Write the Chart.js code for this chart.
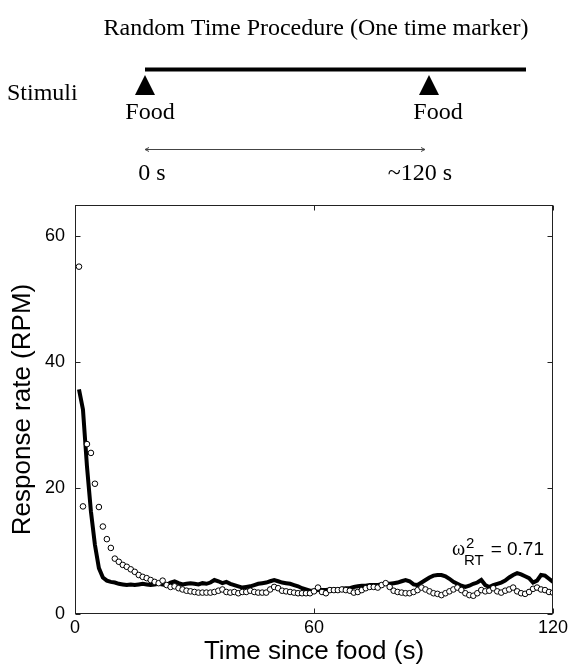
<!DOCTYPE html>
<html>
<head>
<meta charset="utf-8">
<script src="https://cdn.jsdelivr.net/npm/chart.js@4"></script>
<style>
  html, body { margin: 0; padding: 0; background: #fff; }
  #wrap { width: 571px; height: 670px; position: relative; }
</style>
</head>
<body>
<div id="wrap"><canvas id="chart"></canvas></div>
<script>
// time since food (s), one sample per second
const times = [
  1, 2, 3, 4, 5, 6, 7, 8, 9, 10, 11, 12, 13, 14, 15, 16, 17, 18, 19, 20,
  21, 22, 23, 24, 25, 26, 27, 28, 29, 30, 31, 32, 33, 34, 35, 36, 37, 38, 39, 40,
  41, 42, 43, 44, 45, 46, 47, 48, 49, 50, 51, 52, 53, 54, 55, 56, 57, 58, 59, 60,
  61, 62, 63, 64, 65, 66, 67, 68, 69, 70, 71, 72, 73, 74, 75, 76, 77, 78, 79, 80,
  81, 82, 83, 84, 85, 86, 87, 88, 89, 90, 91, 92, 93, 94, 95, 96, 97, 98, 99, 100,
  101, 102, 103, 104, 105, 106, 107, 108, 109, 110, 111, 112, 113, 114, 115, 116, 117, 118, 119, 120
];

// open circles: observed response rate
const observed = [
  55.2, 17.1, 27.0, 25.6, 20.7, 17.0, 13.9, 11.9, 10.5, 8.8,
  8.3, 7.8, 7.5, 7.1, 6.7, 6.2, 5.9, 5.7, 5.4, 5.1,
  4.9, 5.3, 4.6, 4.3, 4.4, 4.1, 3.9, 3.7, 3.6, 3.5,
  3.4, 3.4, 3.4, 3.4, 3.5, 3.7, 3.9, 3.5, 3.4, 3.5,
  3.3, 3.5, 3.5, 3.7, 3.5, 3.4, 3.4, 3.4, 3.9, 4.3,
  4.1, 3.7, 3.6, 3.5, 3.4, 3.3, 3.3, 3.3, 3.3, 3.6,
  4.2, 3.5, 3.3, 3.8, 3.8, 3.8, 3.9, 3.8, 3.7, 3.4,
  3.5, 3.8, 4.1, 4.3, 4.3, 4.2, 4.6, 4.9, 4.3, 3.7,
  3.5, 3.4, 3.3, 3.3, 3.5, 3.8, 4.2, 3.9, 3.6, 3.3,
  3.2, 3.0, 3.3, 3.6, 3.9, 4.2, 3.8, 3.3, 3.0, 2.9,
  3.3, 3.8, 3.6, 3.7, 4.1, 3.6, 3.4, 3.7, 3.9, 4.2,
  3.6, 3.3, 3.2, 3.5, 4.0, 4.2, 3.9, 3.8, 3.5, 3.4
];

// thick line: model prediction
const model = [
  35.7, 32.5, 23.5, 16.3, 11.0, 7.3, 5.8, 5.3, 5.1, 5.0,
  4.8, 4.7, 4.6, 4.7, 4.6, 4.7, 4.8, 4.7, 4.6, 4.7,
  4.8, 4.7, 4.6, 5.0, 5.2, 4.9, 4.7, 4.8, 4.9, 4.8,
  4.7, 4.9, 4.8, 5.0, 5.4, 5.2, 4.9, 5.1, 4.8, 4.6,
  4.4, 4.2, 4.3, 4.4, 4.6, 4.8, 4.9, 5.0, 5.2, 5.4,
  5.2, 5.0, 4.9, 4.8, 4.6, 4.4, 4.1, 3.9, 3.7, 3.7,
  3.8, 3.8, 3.8, 3.9, 3.9, 3.9, 4.0, 4.1, 4.1, 4.3,
  4.4, 4.5, 4.5, 4.6, 4.6, 4.6, 4.7, 4.8, 4.8, 4.9,
  5.0, 5.2, 5.4, 5.2, 4.7, 4.6, 5.0, 5.4, 5.8, 6.1,
  6.2, 6.2, 6.0, 5.6, 5.1, 4.8, 4.5, 4.3, 4.5, 4.8,
  5.0, 5.4, 4.6, 4.3, 4.6, 4.8, 5.0, 5.3, 5.8, 6.2,
  6.5, 6.3, 6.0, 5.7, 5.0, 5.3, 6.2, 6.1, 5.6, 5.1
];

const xTicks = [0, 60, 120];
const yTicks = [0, 20, 40, 60];

const SANS = '"Liberation Sans", Arial, sans-serif';
const SERIF = '"Liberation Serif", "Times New Roman", serif';

// box around the plot with MATLAB-style inward ticks
const frame = {
  id: 'frame',
  afterDatasetsDraw(chart) {
    const { ctx, chartArea: a, scales: { x, y } } = chart;
    const L = Math.round(a.left) + 0.5, R = Math.round(a.right) - 0.5;
    const T = Math.round(a.top) + 0.5, B = Math.round(a.bottom) - 0.5;
    ctx.save();
    ctx.strokeStyle = '#222';
    ctx.lineWidth = 1;
    ctx.strokeRect(L, T, R - L, B - T);
    ctx.beginPath();
    xTicks.forEach(v => {
      const px = Math.round(x.getPixelForValue(v)) + 0.5;
      ctx.moveTo(px, B); ctx.lineTo(px, B - 5);
      ctx.moveTo(px, T); ctx.lineTo(px, T + 5);
    });
    yTicks.forEach(v => {
      const py = Math.round(y.getPixelForValue(v)) + 0.5;
      ctx.moveTo(L, py); ctx.lineTo(L + 5, py);
      ctx.moveTo(R, py); ctx.lineTo(R - 5, py);
    });
    ctx.stroke();

    // omega^2_RT annotation
    ctx.fillStyle = '#000';
    ctx.textBaseline = 'alphabetic';
    ctx.textAlign = 'right';
    ctx.font = '19px ' + SANS;
    const right = a.right - 9, base = a.bottom - 59;
    ctx.fillText('= 0.71', right, base);
    ctx.textAlign = 'left';
    ctx.font = '15px ' + SANS;
    ctx.fillText('RT', right - 80, base + 10);
    ctx.fillText('2', right - 78, base - 7);
    ctx.font = '20px ' + SERIF;
    ctx.fillText('\u03c9', right - 92, base);
    ctx.restore();
  }
};

// schematic of the procedure above the plot
const schematic = {
  id: 'schematic',
  afterDraw(chart) {
    const ctx = chart.ctx;
    ctx.save();
    ctx.fillStyle = '#000';
    ctx.strokeStyle = '#000';
    ctx.textBaseline = 'alphabetic';
    ctx.font = '24px ' + SERIF;
    ctx.textAlign = 'center';
    ctx.fillText('Random Time Procedure (One time marker)', 316, 35);

    ctx.lineWidth = 4;
    ctx.beginPath();
    ctx.moveTo(145, 69.5); ctx.lineTo(526, 69.5);
    ctx.stroke();

    [145, 429].forEach(cx => {
      ctx.beginPath();
      ctx.moveTo(cx, 75); ctx.lineTo(cx + 10, 95); ctx.lineTo(cx - 10, 95);
      ctx.closePath();
      ctx.fill();
    });

    ctx.textAlign = 'left';
    ctx.fillText('Stimuli', 7, 100);
    ctx.textAlign = 'center';
    ctx.fillText('Food', 150, 119);
    ctx.fillText('Food', 438, 119);

    ctx.strokeStyle = '#444';
    ctx.lineWidth = 1;
    ctx.beginPath();
    ctx.moveTo(145, 149.5); ctx.lineTo(425, 149.5);
    ctx.moveTo(149, 147.5); ctx.lineTo(145, 149.5); ctx.lineTo(149, 151.5);
    ctx.moveTo(421, 147.5); ctx.lineTo(425, 149.5); ctx.lineTo(421, 151.5);
    ctx.stroke();

    ctx.fillText('0 s', 152, 180);
    ctx.fillText('~120 s', 420, 180);
    ctx.restore();
  }
};

new Chart(document.getElementById('chart'), {
  type: 'scatter',
  data: {
    datasets: [
      {
        label: 'Observed',
        data: times.map((t, i) => ({ x: t, y: observed[i] })),
        pointRadius: 2.8,
        pointBorderWidth: 1,
        borderColor: '#000',
        backgroundColor: '#fff',
        showLine: false
      },
      {
        label: 'Model',
        type: 'line',
        data: times.map((t, i) => ({ x: t, y: model[i] })),
        borderColor: '#000',
        borderWidth: 4,
        pointRadius: 0,
        tension: 0,
        fill: false
      }
    ]
  },
  options: {
    responsive: true,
    maintainAspectRatio: false,
    animation: false,
    layout: { padding: { left: 0, right: 17, top: 205, bottom: 0 } },
    plugins: { legend: { display: false }, tooltip: { enabled: false } },
    scales: {
      x: {
        type: 'linear',
        min: 0,
        max: 120,
        afterBuildTicks: s => { s.ticks = xTicks.map(v => ({ value: v })); },
        afterFit: s => { s.height = 56; },
        grid: { display: false, drawTicks: false },
        border: { display: false },
        ticks: { color: '#000', padding: 3, maxRotation: 0, font: { family: SANS, size: 18 } },
        title: {
          display: true,
          text: 'Time since food (s)',
          color: '#000',
          padding: { top: 0, bottom: 3 },
          font: { family: SANS, size: 26 }
        }
      },
      y: {
        type: 'linear',
        min: 0,
        max: 65,
        afterBuildTicks: s => { s.ticks = yTicks.map(v => ({ value: v })); },
        afterFit: s => { s.width = 75; },
        grid: { display: false, drawTicks: false },
        border: { display: false },
        ticks: { color: '#000', padding: 10, font: { family: SANS, size: 18 } },
        title: {
          display: true,
          text: 'Response rate (RPM)',
          color: '#000',
          padding: { top: 7, bottom: 0 },
          font: { family: SANS, size: 26 }
        }
      }
    }
  },
  plugins: [frame, schematic]
});
</script>
</body>
</html>
